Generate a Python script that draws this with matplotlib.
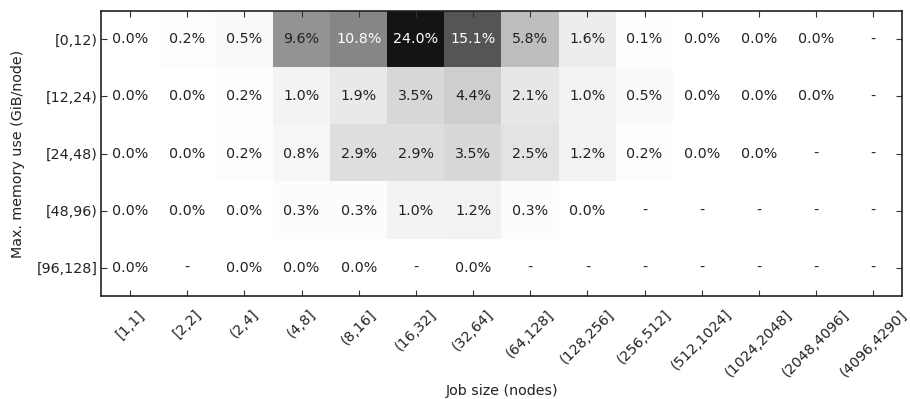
import numpy as np
import matplotlib
matplotlib.use("Agg")
import matplotlib.pyplot as plt
from matplotlib.colors import LinearSegmentedColormap

job_sizes = ["[1,1]", "[2,2]", "(2,4]", "(4,8]", "(8,16]", "(16,32]", "(32,64]",
             "(64,128]", "(128,256]", "(256,512]", "(512,1024]", "(1024,2048]",
             "(2048,4096]", "(4096,4290]"]
mem_bins = ["[0,12)", "[12,24)", "[24,48)", "[48,96)", "[96,128]"]

nan = np.nan
row_0_12 = [0.0, 0.2, 0.5, 9.6, 10.8, 24.0, 15.1, 5.8, 1.6, 0.1, 0.0, 0.0, 0.0, nan]
row_12_24 = [0.0, 0.0, 0.2, 1.0, 1.9, 3.5, 4.4, 2.1, 1.0, 0.5, 0.0, 0.0, 0.0, nan]
row_24_48 = [0.0, 0.0, 0.2, 0.8, 2.9, 2.9, 3.5, 2.5, 1.2, 0.2, 0.0, 0.0, nan, nan]
row_48_96 = [0.0, 0.0, 0.0, 0.3, 0.3, 1.0, 1.2, 0.3, 0.0, nan, nan, nan, nan, nan]
row_96_128 = [0.0, nan, 0.0, 0.0, 0.0, nan, 0.0, nan, nan, nan, nan, nan, nan, nan]

share = np.array([row_0_12, row_12_24, row_24_48, row_48_96, row_96_128])

cmap = LinearSegmentedColormap.from_list("mem", ["#ffffff", "#141414"])
cmap.set_bad("white")
cmap.set_over("#141414")

FS = 10.3

fig = plt.figure(figsize=(9.1, 3.99), dpi=100)
ax = fig.add_axes([0.1115, 0.258, 0.8795, 0.7145])

ax.imshow(np.ma.masked_invalid(share), cmap=cmap, vmin=0, vmax=21.0,
          aspect="auto", interpolation="nearest")

for i in range(share.shape[0]):
    for j in range(share.shape[1]):
        v = share[i, j]
        if np.isnan(v):
            ax.text(j, i, "-", ha="center", va="center", fontsize=FS, color="#222222")
        else:
            col = "white" if v >= 10 else "#222222"
            ax.text(j, i, f"{v:.1f}%", ha="center", va="center", fontsize=FS, color=col)

ax.set_xticks(range(len(job_sizes)))
ax.set_xticklabels(job_sizes, rotation=45, fontsize=FS)
ax.set_yticks(range(len(mem_bins)))
ax.set_yticklabels(mem_bins, fontsize=FS)
ax.tick_params(direction="in", top=True, right=True, length=4, width=0.8,
               color="#333333", pad=3, labelcolor="#222222")
ax.tick_params(axis="x", pad=8)
for s in ax.spines.values():
    s.set_linewidth(1.2)
    s.set_color("#222222")

ax.set_xlabel("Job size (nodes)", fontsize=FS, labelpad=3, color="#222222")
ax.set_ylabel("Max. memory use (GiB/node)", fontsize=FS, labelpad=8, color="#222222")

fig.savefig("out.png", dpi=100)
